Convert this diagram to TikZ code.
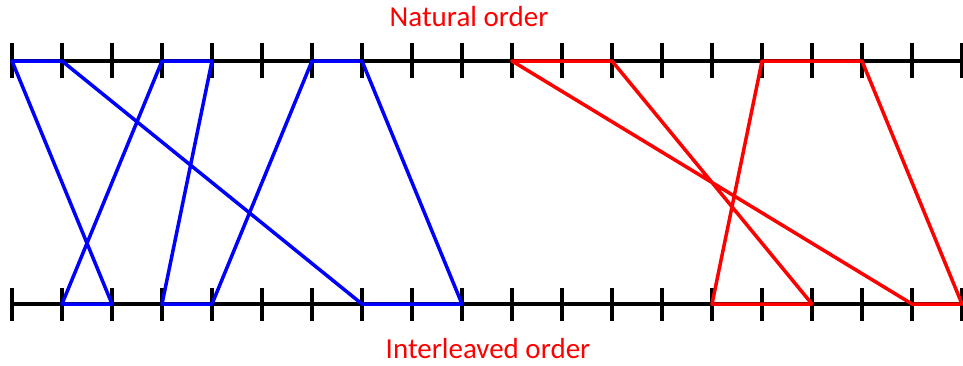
\documentclass[tikz,border=0pt]{standalone}
\usepackage{fontspec}
\setmainfont{Carlito}
\begin{document}
\begin{tikzpicture}[x=1pt,y=-1pt,
  axis/.style={black,line width=3.2pt},
  tick/.style={black,line width=3.2pt},
  blueline/.style={blue,line width=3.5pt,line join=round},
  redline/.style={red,line width=3.5pt,line join=round},
  lbl/.style={text=red,font=\fontsize{29}{33}\selectfont,inner sep=0pt}]
\useasboundingbox (0,0) rectangle (963,365);
% axes
\coordinate (tl) at (12,61); \coordinate (tr) at (963,61);
\coordinate (bl) at (12,304); \coordinate (br) at (963,304);
\draw[axis] (tl) -- (tr);
\draw[axis] (bl) -- (br);
\foreach \i in {0,...,19}{
  \coordinate (t\i) at (12+50*\i,61);
  \coordinate (b\i) at (12+50*\i,304);
  \draw[tick] (12+50*\i,43) -- (12+50*\i,78);
  \draw[tick] (12+50*\i,288) -- (12+50*\i,321);
}
% blue
\draw[blueline] (b2) -- (t0) -- (t1) -- (b7) -- (b9) -- (t7) -- (t6) -- (b4) -- (b3) -- (t4) -- (t3) -- (b1) -- cycle;
% red
\draw[redline] (b19) -- (t17) -- (t15) -- (b14) -- (b16) -- (t12) -- (t10) -- (b18) -- cycle;
% labels
\node[lbl] (nat) at (469,17) {Natural order};
\node[lbl] (int) at (488,349) {Interleaved order};
\end{tikzpicture}
\end{document}
